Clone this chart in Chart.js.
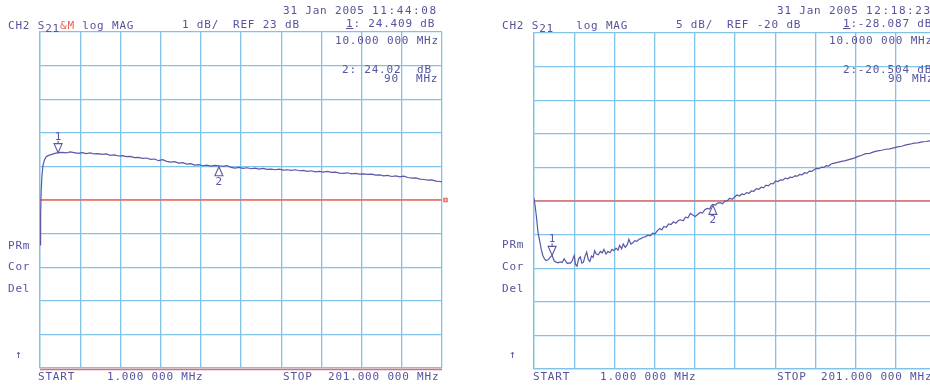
<!DOCTYPE html>
<html lang="en">
<head>
<meta charset="UTF-8">
<title>CH2 S21 log MAG</title>
<script src="https://cdn.jsdelivr.net/npm/chart.js"></script>
<style>
  * { box-sizing: border-box; margin: 0; padding: 0; }
  html, body { width: 930px; height: 385px; overflow: hidden; background: #fff; }
  body { position: relative; font-family: 'DejaVu Sans Mono', monospace; font-size: 11px; color: #54549e; }
  canvas { position: absolute; top: 0; }
  #leftChart { left: 0; }
  #rightChart { left: 465px; }
  .t { position: absolute; white-space: pre; line-height: 12px; letter-spacing: 0.8px; }
  .red { color: #ee5f55; }
  sub { font-size: 11px; vertical-align: -3px; line-height: 0; }
  .u { text-decoration: underline; }
</style>
</head>
<body>
  <canvas id="leftChart" width="465" height="385"></canvas>
  <canvas id="rightChart" width="480" height="385"></canvas>

  <!-- left panel text -->
  <div class="t" style="left:283px;top:5px">31 Jan 2005</div>
  <div class="t" style="left:372px;top:5px;letter-spacing:1.6px">11:44:08</div>
  <div class="t" style="left:8px;top:20px">CH2 S<sub>21</sub><span class="red">&amp;M</span> log MAG</div>
  <div class="t" style="left:182px;top:19px">1 dB/</div>
  <div class="t" style="left:233px;top:19px">REF 23 dB</div>
  <div class="t" style="left:346px;top:18px"><span class="u">1</span>: 24.409 dB</div>
  <div class="t" style="left:335px;top:35px">10.000 000 MHz</div>
  <div class="t" style="left:342px;top:64px">2: 24.02</div>
  <div class="t" style="left:417px;top:64px">dB</div>
  <div class="t" style="left:384px;top:73px">90</div>
  <div class="t" style="left:416px;top:73px">MHz</div>
  <div class="t" style="left:8px;top:240px">PRm</div>
  <div class="t" style="left:8px;top:261px">Cor</div>
  <div class="t" style="left:8px;top:283px">Del</div>
  <div class="t" style="left:15px;top:349px">↑</div>
  <div class="t" style="left:38px;top:371px">START</div>
  <div class="t" style="left:107px;top:371px">1.000 000 MHz</div>
  <div class="t" style="left:283px;top:371px">STOP</div>
  <div class="t" style="left:328px;top:371px">201.000 000 MHz</div>

  <!-- right panel text -->
  <div class="t" style="left:777px;top:5px">31 Jan 2005</div>
  <div class="t" style="left:866px;top:5px;letter-spacing:1.6px">12:18:23</div>
  <div class="t" style="left:502px;top:20px">CH2 S<sub>21</sub>   log MAG</div>
  <div class="t" style="left:676px;top:19px">5 dB/</div>
  <div class="t" style="left:727px;top:19px">REF -20 dB</div>
  <div class="t" style="left:843px;top:18px"><span class="u">1</span>:-28.087 dB</div>
  <div class="t" style="left:829px;top:35px">10.000 000 MHz</div>
  <div class="t" style="left:843px;top:64px">2:-20.504 dB</div>
  <div class="t" style="left:888px;top:73px">90</div>
  <div class="t" style="left:912px;top:73px">MHz</div>
  <div class="t" style="left:502px;top:239px">PRm</div>
  <div class="t" style="left:502px;top:261px">Cor</div>
  <div class="t" style="left:502px;top:283px">Del</div>
  <div class="t" style="left:509px;top:349px">↑</div>
  <div class="t" style="left:533px;top:371px">START</div>
  <div class="t" style="left:600px;top:371px">1.000 000 MHz</div>
  <div class="t" style="left:777px;top:371px">STOP</div>
  <div class="t" style="left:821px;top:371px">201.000 000 MHz</div>

  <script>
    // sweep 1 - 201 MHz, 10 divisions
    const xTicks = [1, 21, 41, 61, 81, 101, 121, 141, 161, 181, 201];
    const leftYTicks  = [18, 19, 20, 21, 22, 23, 24, 25, 26, 27, 28];     // 1 dB/div, REF 23
    const rightYTicks = [-45, -40, -35, -30, -25, -20, -15, -10, -5, 0, 5]; // 5 dB/div, REF -20
    const leftRef = 23, rightRef = -20;

    const markerFreq = [10, 90];
    const leftMarkerGain  = [24.409, 24.02];
    const rightMarkerGain = [-28.087, -20.504];

    const leftFreq = [1, 1.3, 1.6, 2, 2.5, 3.2, 4, 5, 6.5, 8, 10,
      12, 14, 16, 18, 20, 22, 24, 26, 28, 30, 32, 34, 36, 38, 40, 42, 44, 46, 48, 50,
      52, 54, 56, 58, 60, 62, 64, 66, 68, 70, 72, 74, 76, 78, 80, 82, 84, 86, 88, 90,
      92, 94, 96, 98, 100, 102, 104, 106, 108, 110, 112, 114, 116, 118, 120, 122, 124, 126, 128, 130,
      132, 134, 136, 138, 140, 142, 144, 146, 148, 150, 152, 154, 156, 158, 160, 162, 164, 166, 168, 170,
      172, 174, 176, 178, 180, 182, 184, 186, 188, 190, 192, 194, 196, 198, 200, 201];
    const leftGain = [21.66, 22.55, 23.30, 23.74, 24.04, 24.19, 24.28, 24.32, 24.35, 24.38, 24.41,
      24.42, 24.40, 24.43, 24.41, 24.39, 24.41, 24.38, 24.40, 24.37, 24.38, 24.36, 24.37, 24.33, 24.34, 24.31, 24.32, 24.29, 24.30, 24.26, 24.27,
      24.24, 24.25, 24.21, 24.22, 24.17, 24.20, 24.15, 24.13, 24.14, 24.10, 24.11, 24.07, 24.08, 24.04, 24.05, 24.02, 24.04, 24.01, 24.03, 24.02,
      24.00, 24.02, 23.97, 23.95, 23.97, 23.94, 23.96, 23.93, 23.95, 23.92, 23.94, 23.91, 23.92, 23.90, 23.92, 23.89, 23.90, 23.88, 23.90, 23.87,
      23.88, 23.85, 23.87, 23.84, 23.85, 23.83, 23.85, 23.82, 23.83, 23.80, 23.79, 23.81, 23.78, 23.79, 23.77, 23.78, 23.76, 23.77, 23.74, 23.75,
      23.72, 23.73, 23.70, 23.72, 23.69, 23.71, 23.67, 23.65, 23.66, 23.62, 23.61, 23.59, 23.60, 23.56, 23.55, 23.54];

    const rightFreq = [1, 1.5, 2.2, 3, 3.8, 4.6, 5.4, 6.2, 7, 8, 9, 10,
      11, 12, 13, 14, 15, 16, 16.8, 17.6, 18.4, 19.2, 20, 21, 21.6, 22.4, 23.2, 24, 24.8, 25.6, 26.4, 27.2,
      28, 28.8, 29.6, 30.4, 31.2, 32, 33, 34, 35, 35.8, 36.8, 37.8, 38.8, 39.8, 40.8, 41.8, 42.8, 43.6,
      44.6, 45.4, 46.4, 47.4, 48.2, 49.2, 50.2, 51.2, 52.2, 53.2, 54.2, 55.4, 56.6, 57.6, 58.8, 60,
      61.2, 62.4, 63.6, 64.6, 65.6, 66.8, 68, 69.2, 70.4, 71.6, 72.8, 74, 75.2, 76.4, 77.6, 78.8, 80,
      81.2, 82.4, 83.6, 84.8, 86, 87.2, 88.4, 89.2, 90, 91.2, 92.4, 93.6, 94.8, 96, 97.2, 98.4, 99.6,
      100.8, 102, 103.2, 104.4, 105.6, 106.8, 108, 109.2, 110.4, 111.6, 112.8, 114, 115.2, 116.4, 117.6, 118.8,
      120, 121.2, 122.4, 123.6, 124.8, 126, 127.2, 128.4, 129.6, 130.8, 132, 133.2, 134.4, 135.6, 136.8, 138,
      139.2, 140.4, 141.6, 142.8, 144, 145.2, 146.4, 147.6, 148.8, 150, 152, 154, 156, 158, 160, 162, 164,
      166, 168, 170, 172, 174, 176, 178, 180, 182, 184, 186, 188, 190, 192, 194, 196, 198, 200, 201];
    const rightGain = [-19.60, -20.60, -22.30, -24.70, -25.90, -27.20, -28.10, -28.60, -28.85, -28.75, -28.40, -28.09,
      -28.90, -29.10, -29.20, -29.05, -29.15, -28.60, -29.00, -29.30, -29.20, -29.25, -28.90, -28.10, -29.40, -29.70, -28.60, -28.30, -29.25, -29.10, -28.20, -27.60,
      -28.70, -29.00, -28.20, -28.40, -27.40, -27.90, -28.00, -27.50, -27.70, -27.20, -27.90, -27.50, -27.70, -27.20, -27.40, -27.00, -27.30, -26.60,
      -27.10, -26.40, -26.90, -26.50, -25.70, -26.40, -26.20, -25.90, -26.00, -25.70, -25.60, -25.40, -25.30, -25.10, -25.20, -24.80,
      -24.90, -24.40, -24.10, -24.30, -23.80, -23.90, -23.40, -23.50, -23.10, -23.30, -22.90, -22.80, -22.95, -22.40, -22.50, -21.85, -22.10,
      -22.30, -22.00, -21.70, -21.80, -21.30, -21.10, -21.20, -20.70, -20.50, -20.60, -20.30, -20.25, -20.40, -20.00, -19.95, -19.60, -19.75,
      -19.40, -19.10, -19.25, -18.95, -19.05, -18.75, -18.85, -18.50, -18.55, -18.15, -18.25, -17.95, -18.05, -17.65, -17.75, -17.40,
      -17.45, -17.00, -17.10, -16.85, -16.90, -16.60, -16.70, -16.45, -16.50, -16.25, -16.30, -16.05, -16.10, -15.80, -15.90, -15.55,
      -15.60, -15.30, -15.15, -15.20, -14.95, -15.00, -14.75, -14.80, -14.50, -14.40, -14.25, -14.10, -14.00, -13.80, -13.65, -13.40, -13.20,
      -12.95, -12.90, -12.70, -12.55, -12.45, -12.30, -12.25, -12.10, -11.95, -11.85, -11.65, -11.55, -11.40, -11.35, -11.20, -11.15, -11.05, -10.98, -10.95];

    const traceColor = '#5a58a6';
    const refColor   = '#ef6a5e';
    const gridColor  = 'rgb(128,194,234)';

    // marker triangles, the bottom red line and the little ref tab
    const markerPlugin = {
      id: 'markers',
      afterDatasetsDraw(chart, args, opts) {
        const { ctx, chartArea, scales: { x, y } } = chart;
        ctx.save();
        ctx.strokeStyle = traceColor;
        ctx.fillStyle = traceColor;
        ctx.lineWidth = 1.1;
        ctx.font = '11px "DejaVu Sans Mono"';
        ctx.textAlign = 'center';
        ctx.textBaseline = 'middle';
        opts.freq.forEach((f, i) => {
          const px = x.getPixelForValue(f), py = y.getPixelForValue(opts.gain[i]);
          ctx.beginPath();
          if (i === 0) {
            ctx.moveTo(px, py); ctx.lineTo(px - 4, py - 9); ctx.lineTo(px + 4, py - 9); ctx.closePath();
            ctx.moveTo(px, py - 9); ctx.lineTo(px, py - 12);
            ctx.stroke();
            ctx.fillText('1', px, py - 16);
          } else {
            ctx.moveTo(px, py + 1); ctx.lineTo(px - 4, py + 10); ctx.lineTo(px + 4, py + 10); ctx.closePath();
            ctx.stroke();
            ctx.fillText('2', px, py + 16);
          }
        });
        if (opts.bottomRed) {
          ctx.strokeStyle = refColor;
          ctx.lineWidth = 1.5;
          ctx.beginPath();
          ctx.moveTo(chartArea.left, chartArea.bottom + 1.5);
          ctx.lineTo(chartArea.right, chartArea.bottom + 1.5);
          ctx.stroke();
          const ry = y.getPixelForValue(opts.ref);
          ctx.strokeRect(chartArea.right + 2, ry - 1.5, 3, 3);
        }
        ctx.restore();
      }
    };

    function makeChart(id, freq, gain, yTicks, ref, mGain, pad, bottomRed) {
      const ctx = document.getElementById(id).getContext('2d');
      return new Chart(ctx, {
        type: 'line',
        data: {
          datasets: [
            { data: freq.map((f, i) => ({ x: f, y: gain[i] })), borderColor: traceColor, borderWidth: 1.2,
              pointRadius: 0, tension: 0 },
            { data: [{ x: xTicks[0], y: ref }, { x: xTicks[xTicks.length - 1], y: ref }], borderColor: refColor,
              borderWidth: 1.3, pointRadius: 0, order: 1 }
          ]
        },
        options: {
          responsive: false,
          animation: false,
          layout: { padding: pad },
          plugins: {
            legend: { display: false },
            tooltip: { enabled: false },
            markers: { freq: markerFreq, gain: mGain, bottomRed: bottomRed, ref: ref }
          },
          scales: {
            x: {
              type: 'linear', min: xTicks[0], max: xTicks[xTicks.length - 1],
              afterBuildTicks: s => { s.ticks = xTicks.map(v => ({ value: v })); },
              ticks: { display: false },
              grid: { color: gridColor, lineWidth: 1.3, drawTicks: false },
              border: { color: gridColor, width: 1.3 }
            },
            y: {
              min: yTicks[0], max: yTicks[yTicks.length - 1],
              afterBuildTicks: s => { s.ticks = yTicks.map(v => ({ value: v })); },
              ticks: { display: false },
              grid: { color: gridColor, lineWidth: 1.3, drawTicks: false },
              border: { color: gridColor, width: 1.3 }
            }
          }
        },
        plugins: [markerPlugin]
      });
    }

    makeChart('leftChart', leftFreq, leftGain, leftYTicks, leftRef, leftMarkerGain,
      { left: 40, right: 23, top: 32, bottom: 17 }, true);
    makeChart('rightChart', rightFreq, rightGain, rightYTicks, rightRef, rightMarkerGain,
      { left: 69, right: 9, top: 33, bottom: 16 }, false);
  </script>
</body>
</html>
